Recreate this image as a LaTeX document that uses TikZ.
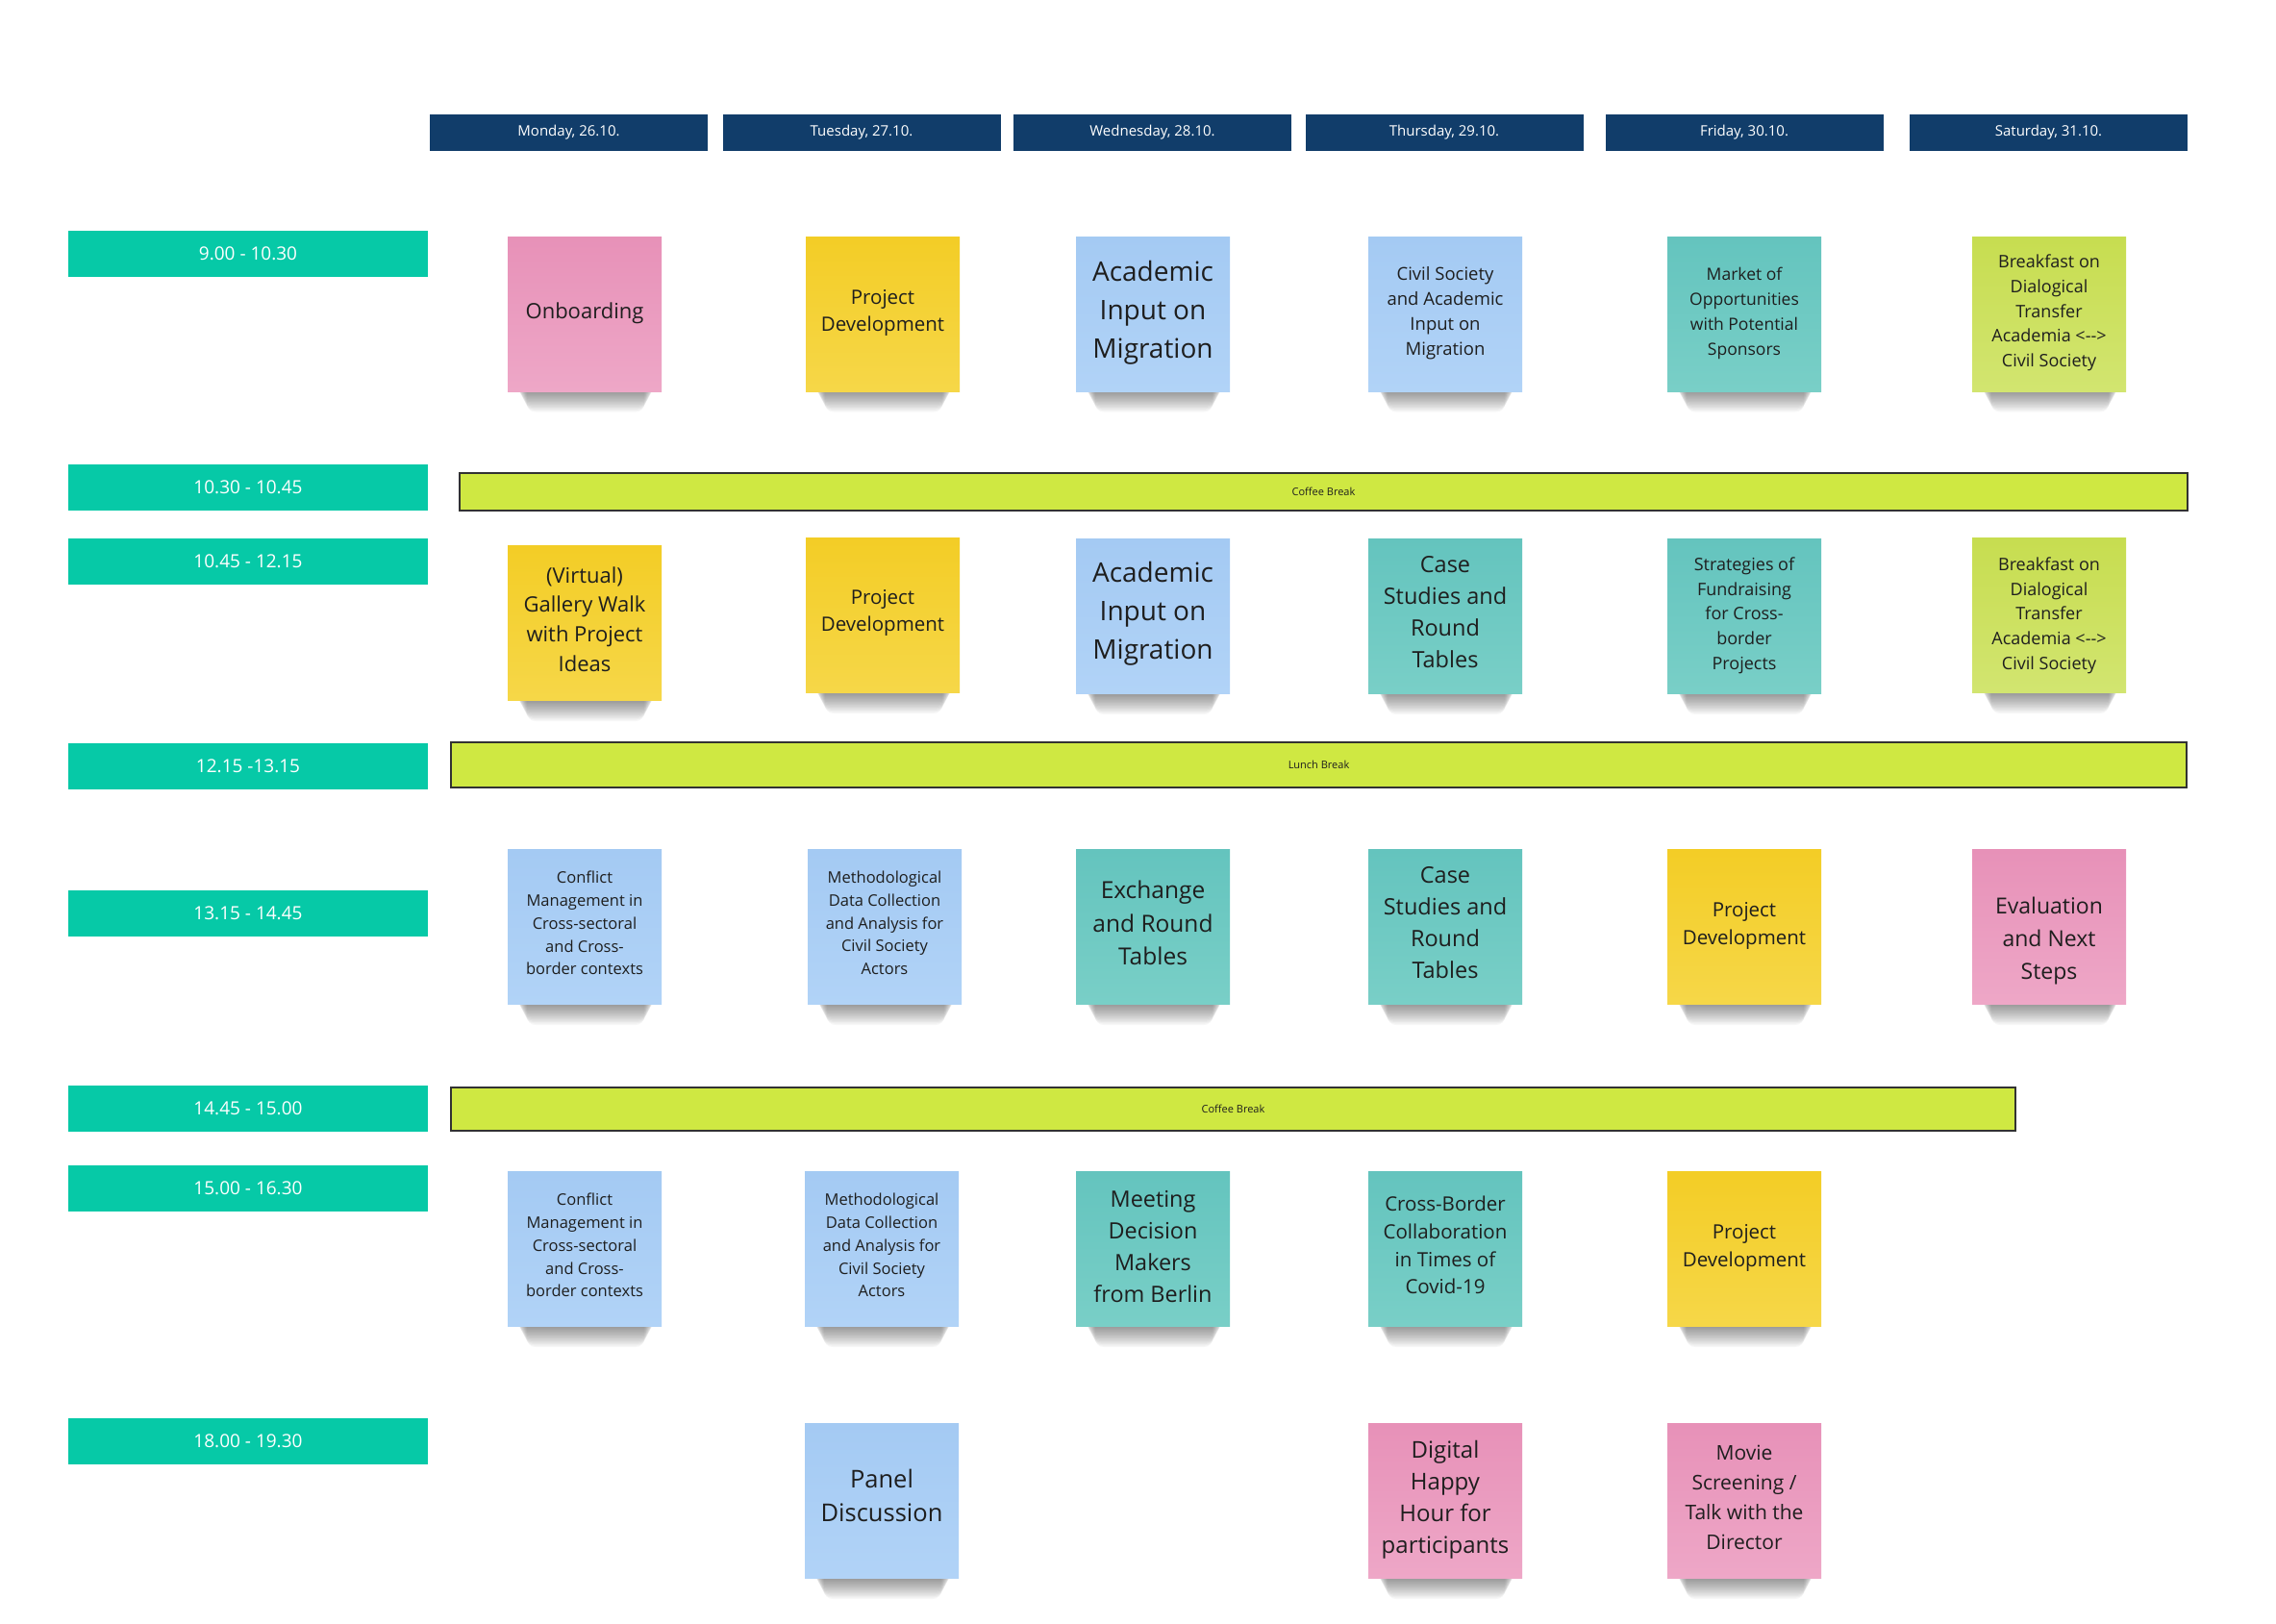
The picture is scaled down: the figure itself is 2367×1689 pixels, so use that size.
\documentclass[tikz,border=0pt]{standalone}
\usepackage{fontspec}
\setmainfont{Open Sans}
\definecolor{navy}{RGB}{17,61,106}
\definecolor{tealLbl}{RGB}{6,201,167}
\definecolor{limeBar}{RGB}{207,232,66}
\definecolor{barEdge}{RGB}{50,50,50}
\definecolor{ink}{RGB}{30,30,30}
\definecolor{pinkT}{RGB}{231,145,184}
\definecolor{pinkB}{RGB}{238,167,199}
\definecolor{yellowT}{RGB}{243,205,38}
\definecolor{yellowB}{RGB}{246,215,72}
\definecolor{blueT}{RGB}{164,202,243}
\definecolor{blueB}{RGB}{177,211,247}
\definecolor{tealT}{RGB}{100,196,190}
\definecolor{tealB}{RGB}{121,207,199}
\definecolor{limeT}{RGB}{199,221,80}
\definecolor{limeB}{RGB}{210,229,112}
\tikzset{
  dayhdr/.style={rectangle, fill=navy, text=white, inner sep=0pt,
    minimum width=289pt, minimum height=38pt, font=\fontsize{15}{18}\selectfont},
  timelbl/.style={rectangle, fill=tealLbl, text=white, inner sep=0pt,
    minimum width=374pt, minimum height=48pt, font=\fontsize{19}{22}\selectfont},
  brkbar/.style={rectangle, fill=limeBar, draw=barEdge, line width=1.5pt, inner sep=0pt,
    text=ink, font=\fontsize{11}{13}\selectfont},
  note/.style={rectangle, inner sep=0pt, minimum width=160pt, minimum height=161pt},
  notetext/.style={align=center, text=ink, inner sep=0pt},
  shadowlayer/.style={fill=black, opacity=0.032, rounded corners=9pt}
}
\newcommand\stk[8][4]{%
  \begin{scope}[shift={(#3,#4)}]
    \foreach \i in {1,...,16}
      \fill[shadowlayer] (-73+0.8*\i, 70) rectangle (75-0.8*\i, 78+1.5*\i);
  \end{scope}
  \node[note, top color=#5T, bottom color=#5B] (#2) at (#3,#4) {};
  \node[notetext, font=\fontsize{#6}{#7}\selectfont] (#2t) at ([yshift=#1pt]#2.center) {#8};
}
\begin{document}
\begin{tikzpicture}[x=1pt,y=-1pt]
\useasboundingbox (0,0) rectangle (2367,1689);
\fill[white] (0,0) rectangle (2367,1689);

% day headers
\node[dayhdr] (hmon) at (591.5,138) {Monday, 26.10.};
\node[dayhdr] (htue) at (896,138) {Tuesday, 27.10.};
\node[dayhdr] (hwed) at (1198.5,138) {Wednesday, 28.10.};
\node[dayhdr] (hthu) at (1502,138) {Thursday, 29.10.};
\node[dayhdr] (hfri) at (1814,138) {Friday, 30.10.};
\node[dayhdr] (hsat) at (2130.5,138) {Saturday, 31.10.};

% time labels
\node[timelbl] (t1) at (258,263.5) {9.00 - 10.30};
\node[timelbl] (t2) at (258,506.5) {10.30 - 10.45};
\node[timelbl] (t3) at (258,583.5) {10.45 - 12.15};
\node[timelbl] (t4) at (258,796.5) {12.15 -13.15};
\node[timelbl] (t5) at (258,949.5) {13.15 - 14.45};
\node[timelbl] (t6) at (258,1152.5) {14.45 - 15.00};
\node[timelbl] (t7) at (258,1235.5) {15.00 - 16.30};
\node[timelbl] (t8) at (258,1498.5) {18.00 - 19.30};

% breaks
\node[brkbar, minimum width=1797pt, minimum height=39pt] (cb1) at (1376.5,511.5) {Coffee Break};
\node[brkbar, minimum width=1805pt, minimum height=47pt] (lb) at (1371.5,795.5) {Lunch Break};
\node[brkbar, minimum width=1627pt, minimum height=45pt] (cb2) at (1282.5,1153.5) {Coffee Break};

% row 1
\stk[1]{mon1}{608}{326.5}{pink}{22}{30}{Onboarding}
\stk[1]{tue1}{918}{326.5}{yellow}{20.5}{28.7}{Project\\Development}
\stk[1]{wed1}{1199}{326.5}{blue}{28}{40}{Academic\\Input on\\Migration}
\stk[1]{thu1}{1503}{326.5}{blue}{18.5}{26}{Civil Society\\and Academic\\Input on\\Migration}
\stk[1]{fri1}{1814}{326.5}{teal}{17.5}{26}{Market of\\Opportunities\\with Potential\\Sponsors}
\stk[1]{sat1}{2131}{326.5}{lime}{18}{25.7}{Breakfast on\\Dialogical\\Transfer\\Academia <-{}->\\Civil Society}

% row 2
\stk[4]{mon2}{608}{648}{yellow}{22}{30.7}{(Virtual)\\Gallery Walk\\with Project\\Ideas}
\stk[2.5]{tue2}{918}{640}{yellow}{20.5}{28.7}{Project\\Development}
\stk[2.5]{wed2}{1199}{641}{blue}{28}{40}{Academic\\Input on\\Migration}
\stk[4]{thu2}{1503}{641}{teal}{23.5}{33}{Case\\Studies and\\Round\\Tables}
\stk[1]{fri2}{1814}{641}{teal}{18}{25.7}{Strategies of\\Fundraising\\for Cross-\\border\\Projects}
\stk[0]{sat2}{2131}{640}{lime}{18}{25.7}{Breakfast on\\Dialogical\\Transfer\\Academia <-{}->\\Civil Society}

% row 3
\stk[4]{mon3}{608}{964}{blue}{16.5}{23.8}{Conflict\\Management in\\Cross-sectoral\\and Cross-\\border contexts}
\stk[4]{tue3}{920}{964}{blue}{16.5}{23.8}{Methodological\\Data Collection\\and Analysis for\\Civil Society\\Actors}
\stk[4]{wed3}{1199}{964}{teal}{24.5}{34.7}{Exchange\\and Round\\Tables}
\stk[4]{thu3}{1503}{964}{teal}{23.5}{33}{Case\\Studies and\\Round\\Tables}
\stk[1]{fri3}{1814}{964}{yellow}{20.5}{28.7}{Project\\Development}
\stk[-15]{sat3}{2131}{964}{pink}{23}{34}{Evaluation\\and Next\\Steps}

% row 4
\stk[4]{mon4}{608}{1299}{blue}{16.5}{23.8}{Conflict\\Management in\\Cross-sectoral\\and Cross-\\border contexts}
\stk[4]{tue4}{917}{1299}{blue}{16.5}{23.8}{Methodological\\Data Collection\\and Analysis for\\Civil Society\\Actors}
\stk[2.5]{wed4}{1199}{1299}{teal}{23.4}{33}{Meeting\\Decision\\Makers\\from Berlin}
\stk[4]{thu4}{1503}{1299}{teal}{20.5}{28.7}{Cross-Border\\Collaboration\\in Times of\\Covid-19}
\stk[1]{fri4}{1814}{1299}{yellow}{20.5}{28.7}{Project\\Development}

% row 5
\stk[5.5]{tue5}{917}{1561}{blue}{25.5}{35}{Panel\\Discussion}
\stk[1]{thu5}{1503}{1561}{pink}{24}{33}{Digital\\Happy\\Hour for\\participants}
\stk[4]{fri5}{1814}{1561}{pink}{21}{31}{Movie\\Screening /\\Talk with the\\Director}
\end{tikzpicture}
\end{document}
